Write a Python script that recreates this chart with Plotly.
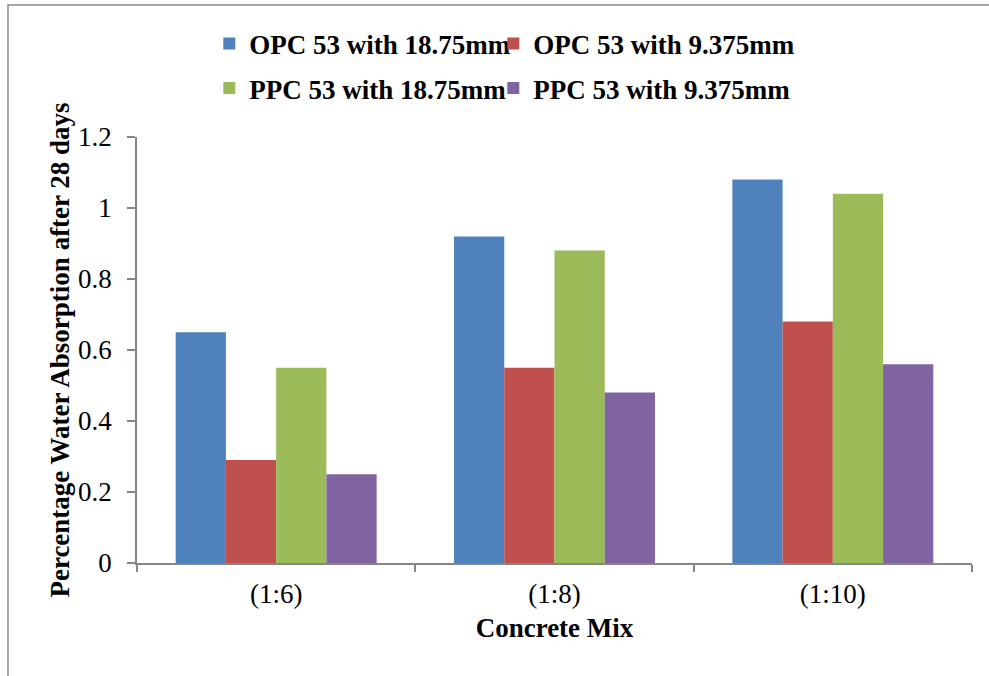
import plotly.graph_objects as go

# Concrete mix proportions on the x-axis
mixes = ["(1:6)", "(1:8)", "(1:10)"]

# Water absorption (%) after 28 days for each cement / aggregate combination
opc_18_75 = [0.65, 0.92, 1.08]
opc_9_375 = [0.29, 0.55, 0.68]
ppc_18_75 = [0.55, 0.88, 1.04]
ppc_9_375 = [0.25, 0.48, 0.56]

series_names = [
    "OPC 53 with 18.75mm",
    "OPC 53 with 9.375mm",
    "PPC 53 with 18.75mm",
    "PPC 53 with 9.375mm",
]
series_values = [opc_18_75, opc_9_375, ppc_18_75, ppc_9_375]
series_colors = ["#4F81BD", "#C0504D", "#9BBB59", "#8064A2"]
# first two entries on the top legend row, the other two on the second row
series_legends = ["legend", "legend", "legend2", "legend2"]
# left entries get a fixed width so the right entries line up; right entries get room for their text
series_entry_widths = [239, 290, 239, 290]

y_ticks = [0, 0.2, 0.4, 0.6, 0.8, 1, 1.2]

SERIF = "Liberation Serif, Times New Roman, serif"
AXIS_GRAY = "#868686"
TICK_SIZE = 27
TITLE_SIZE = 27

fig = go.Figure()
for name, vals, color, lg, ew in zip(
    series_names, series_values, series_colors, series_legends, series_entry_widths
):
    fig.add_trace(
        go.Bar(
            x=mixes,
            y=vals,
            name=name,
            marker=dict(color=color, line=dict(width=0)),
            legend=lg,
            legendwidth=ew,
        )
    )

legend_common = dict(
    orientation="h",
    xanchor="left",
    yanchor="middle",
    x=0.0866,
    entrywidthmode="pixels",
    font=dict(family=SERIF, size=27, color="black", weight="bold"),
    bgcolor="rgba(0,0,0,0)",
    itemclick=False,
    itemdoubleclick=False,
)

fig.update_layout(
    width=989,
    height=676,
    margin=dict(l=137, r=17, t=137, b=113),
    paper_bgcolor="white",
    plot_bgcolor="white",
    barmode="group",
    bargap=0.278,
    bargroupgap=0,
    showlegend=True,
    legend=dict(legend_common, y=1.2183),
    legend2=dict(legend_common, y=1.114),
    xaxis=dict(
        showline=True,
        linecolor=AXIS_GRAY,
        linewidth=1.5,
        ticks="outside",
        tickson="boundaries",
        ticklen=7,
        tickcolor=AXIS_GRAY,
        tickwidth=1.5,
        showgrid=False,
        zeroline=False,
        tickfont=dict(family=SERIF, size=TICK_SIZE, color="black"),
        ticklabelstandoff=6,
        title=dict(
            text="Concrete Mix",
            font=dict(family=SERIF, size=TITLE_SIZE, color="black", weight="bold"),
            standoff=10,
        ),
    ),
    yaxis=dict(
        range=[0, 1.2],
        tickvals=y_ticks,
        ticktext=[f"{v:g}" for v in y_ticks],
        showline=True,
        linecolor=AXIS_GRAY,
        linewidth=1.5,
        ticks="outside",
        ticklen=8,
        tickcolor=AXIS_GRAY,
        tickwidth=1.5,
        showgrid=False,
        zeroline=False,
        tickfont=dict(family=SERIF, size=TICK_SIZE, color="black"),
        ticklabelstandoff=10,
        title=dict(
            text="Percentage Water Absorption after 28 days",
            font=dict(family=SERIF, size=TITLE_SIZE, color="black", weight="bold"),
            standoff=1,
        ),
    ),
    shapes=[
        # chart frame around the whole figure
        dict(
            type="rect",
            xref="paper",
            yref="paper",
            x0=-0.1545,
            x1=1.03,
            y0=-0.28,
            y1=1.3099,
            line=dict(color="#8a8a8a", width=1.5),
            fillcolor="rgba(0,0,0,0)",
            layer="below",
        )
    ],
)

fig.write_html("out.html")
